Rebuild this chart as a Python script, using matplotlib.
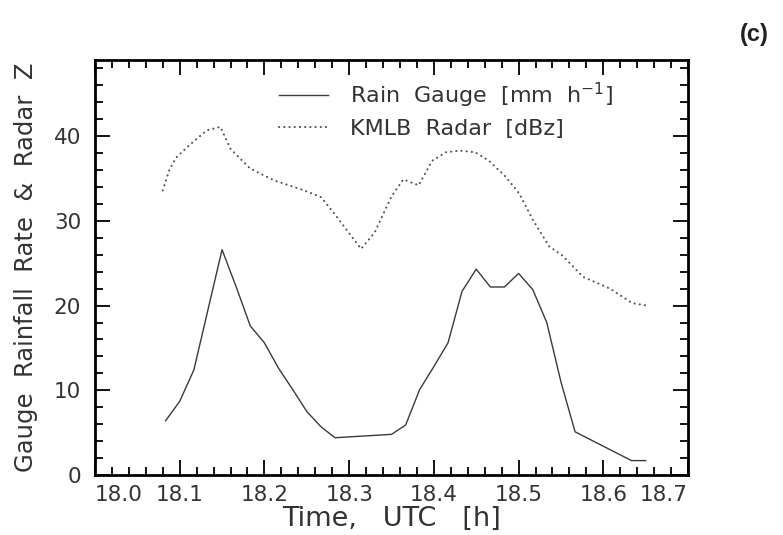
import matplotlib
matplotlib.use("Agg")
import matplotlib.pyplot as plt
from matplotlib.ticker import MultipleLocator

# rain gauge samples (time in decimal hours UTC, rate in mm/h)
gauge_time = [18.0833, 18.1, 18.1167, 18.1333, 18.15, 18.1667, 18.1833, 18.2,
              18.2167, 18.2333, 18.25, 18.2667, 18.2833, 18.35, 18.3667, 18.3833,
              18.4, 18.4167, 18.4333, 18.45, 18.4667, 18.4833, 18.5, 18.5167,
              18.5333, 18.55, 18.5667, 18.6333, 18.65]
gauge_rate = [6.4, 8.7, 12.4, 19.5, 26.6, 22.2, 17.6, 15.6,
              12.6, 10.1, 7.5, 5.7, 4.4, 4.8, 5.9, 10.1,
              12.8, 15.6, 21.7, 24.3, 22.2, 22.2, 23.8, 21.9,
              18.0, 11.0, 5.1, 1.7, 1.7]

# KMLB radar reflectivity (dBZ)
radar_time = [18.080, 18.088, 18.096, 18.112, 18.132, 18.148, 18.160, 18.183,
              18.211, 18.247, 18.267, 18.283, 18.314, 18.330, 18.350, 18.364,
              18.382, 18.398, 18.414, 18.431, 18.449, 18.465, 18.485, 18.501,
              18.517, 18.536, 18.552, 18.576, 18.608, 18.634, 18.652]
radar_dbz = [33.6, 36.1, 37.5, 39.0, 40.7, 41.1, 38.5, 36.2,
             34.8, 33.6, 32.8, 30.8, 26.7, 28.6, 32.9, 34.9,
             34.2, 37.1, 38.1, 38.3, 38.1, 37.1, 35.2, 33.2,
             30.1, 27.0, 25.9, 23.4, 22.0, 20.3, 20.0]

x_ticks = [18.0, 18.1, 18.2, 18.3, 18.4, 18.5, 18.6, 18.7]
y_ticks = [0, 10, 20, 30, 40]

TXT = "#333333"
LINE = "#3a3a3a"

plt.rcParams["font.family"] = ["DejaVu Sans"]

fig = plt.figure(figsize=(7.83, 5.35), dpi=100)
ax = fig.add_axes([95 / 783, 60 / 535, 593 / 783, 415 / 535])

ax.plot(gauge_time, gauge_rate, color=LINE, lw=1.0,
        label=r"Rain  Gauge  [mm  h$^{-1}$]")
ax.plot(radar_time, radar_dbz, color="#555555", lw=1.5,
        linestyle=(0, (0.1, 2.4)), dash_capstyle="round",
        label="KMLB  Radar  [dBz]")

ax.set_xlim(18.0, 18.7)
ax.set_ylim(0, 49)
ax.set_xticks(x_ticks)
ax.set_xticklabels([f"{t:.1f}" for t in x_ticks])
ax.set_yticks(y_ticks)
ax.xaxis.set_minor_locator(MultipleLocator(0.02))
ax.yaxis.set_minor_locator(MultipleLocator(2))

ax.tick_params(which="both", direction="in", top=True, right=True,
               labelright=False, labeltop=False, colors="black", width=1.3,
               labelcolor=TXT, labelsize=15.5)
ax.tick_params(which="major", length=11)
ax.tick_params(which="minor", length=6)
ax.tick_params(axis="x", pad=7)
ax.tick_params(axis="y", pad=10)

# end labels pulled inward like the original
xl = ax.get_xticklabels()
xl[0].set_ha("left")
xl[-1].set_ha("right")

for s in ax.spines.values():
    s.set_linewidth(2.0)

ax.set_xlabel("Time,   UTC   [h]", fontsize=19.5, color=TXT, labelpad=1)
ax.set_ylabel("Gauge  Rainfall  Rate  &  Radar  Z", fontsize=17.5, color=TXT,
              labelpad=11)

leg = ax.legend(loc="upper left", bbox_to_anchor=(0.31, 0.95), frameon=False,
                fontsize=16, handlelength=2.2, handletextpad=1.0,
                labelspacing=0.4, borderpad=0, borderaxespad=0)
for t in leg.get_texts():
    t.set_color(TXT)

fig.text(0.963, 0.936, "(c)", fontsize=17, family="Liberation Sans",
         fontweight="bold", ha="center", va="center", color="#222222")

fig.savefig("out.png", dpi=100)
